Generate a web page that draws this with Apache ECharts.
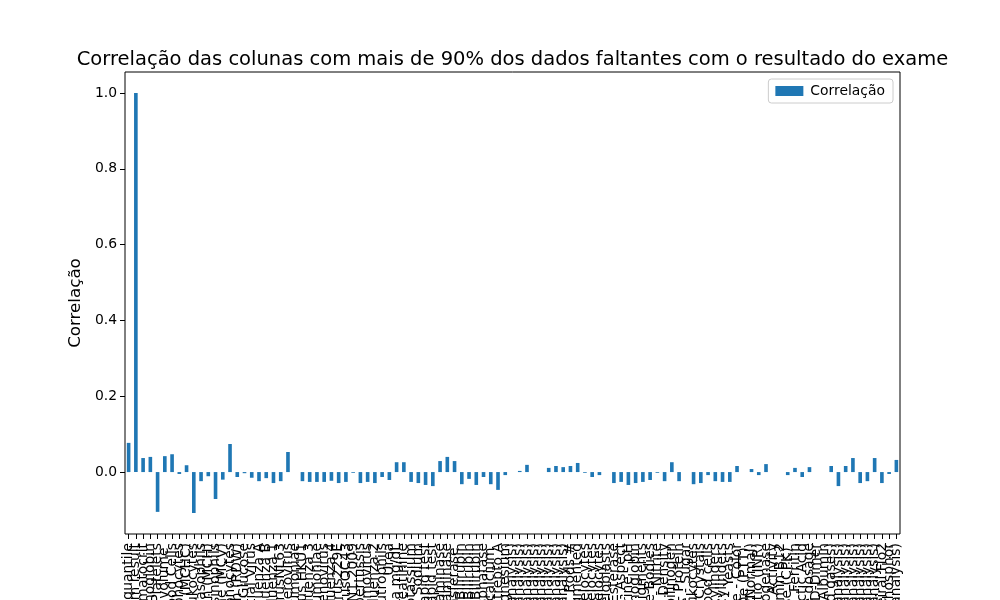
<!DOCTYPE html>
<html>
<head>
<meta charset="utf-8">
<script src="https://cdn.jsdelivr.net/npm/echarts@6/dist/echarts.min.js"></script>
<style>html,body{margin:0;padding:0;background:#fff}#c{width:1000px;height:600px}</style>
</head>
<body>
<div id="c"></div>
<script>
const categories = [
"Patient age quantile","SARS-Cov-2 exam result","Hematocrit","Hemoglobin","Platelets","Mean platelet volume ","Red blood Cells","Lymphocytes",
"Mean corpuscular hemoglobin concentration (MCHC)","Leukocytes","Basophils","Mean corpuscular hemoglobin (MCH)","Eosinophils",
"Mean corpuscular volume (MCV)","Monocytes","Red blood cell distribution width (RDW)","Serum Glucose","Respiratory Syncytial Virus",
"Influenza A","Influenza B","Parainfluenza 1","CoronavirusNL63","Rhinovirus/Enterovirus","Mycoplasma pneumoniae","Coronavirus HKU1",
"Parainfluenza 3","Chlamydophila pneumoniae","Adenovirus","Parainfluenza 4","Coronavirus229E","CoronavirusOC43","Inf A H1N1 2009",
"Bordetella pertussis","Metapneumovirus","Parainfluenza 2","Neutrophils","Urea","Proteina C reativa mg/dL","Creatinine","Potassium",
"Sodium","Influenza B, rapid test","Influenza A, rapid test","Alanine transaminase","Aspartate transaminase","Gamma-glutamyltransferase ",
"Total Bilirubin","Direct Bilirubin","Indirect Bilirubin","Alkaline phosphatase","Ionized calcium ","Strepto A","Magnesium",
"pCO2 (venous blood gas analysis)","Hb saturation (venous blood gas analysis)","Base excess (venous blood gas analysis)",
"pO2 (venous blood gas analysis)","Fio2 (venous blood gas analysis)","Total CO2 (venous blood gas analysis)","pH (venous blood gas analysis)",
"HCO3 (venous blood gas analysis)","Rods #","Segmented","Promyelocytes","Metamyelocytes","Myelocytes","Myeloblasts","Urine - Esterase",
"Urine - Aspect","Urine - pH","Urine - Hemoglobin","Urine - Bile pigments","Urine - Ketone Bodies","Urine - Nitrite","Urine - Density",
"Urine - Urobilinogen","Urine - Protein","Urine - Sugar","Urine - Leukocytes","Urine - Crystals","Urine - Red blood cells",
"Urine - Hyaline cylinders","Urine - Granular cylinders","Urine - Yeasts","Urine - Color","Partial thromboplastin time (PTT) ",
"Relationship (Patient/Normal)","International normalized ratio (INR)","Lactic Dehydrogenase","Prothrombin time (PT), Activity",
"Vitamin B12","Creatine phosphokinase (CPK) ","Ferritin","Arterial Lactic Acid","Lipase dosage","D-Dimer","Albumin",
"Hb saturation (arterial blood gases)","pCO2 (arterial blood gas analysis)","Base excess (arterial blood gas analysis)",
"pH (arterial blood gas analysis)","Total CO2 (arterial blood gas analysis)","HCO3 (arterial blood gas analysis)",
"pO2 (arterial blood gas analysis)","Arteiral Fio2","Phosphor","ctO2 (arterial blood gas analysis)"
];
const correlacao = [
0.077,1.0,0.037,0.040,-0.105,0.042,0.047,-0.005,0.018,-0.108,
-0.024,-0.011,-0.071,-0.020,0.074,-0.013,-0.003,-0.015,-0.024,-0.016,
-0.029,-0.024,0.053,null,-0.024,-0.026,-0.026,-0.026,-0.023,-0.029,
-0.026,-0.002,-0.029,-0.026,-0.029,-0.013,-0.021,0.026,0.026,-0.026,
-0.029,-0.034,-0.037,0.029,0.040,0.029,-0.032,-0.018,-0.034,-0.013,
-0.032,-0.047,-0.008,null,0.003,0.019,null,null,0.011,0.016,
0.013,0.016,0.024,-0.002,-0.013,-0.008,null,-0.029,-0.026,-0.034,
-0.029,-0.026,-0.021,-0.002,-0.024,0.026,-0.024,null,-0.032,-0.029,
-0.008,-0.024,-0.026,-0.026,0.016,null,0.008,-0.008,0.021,null,
null,-0.008,0.011,-0.013,0.013,null,null,0.016,-0.037,0.016,
0.037,-0.029,-0.024,0.037,-0.029,-0.005,0.032
];
const yTicks = [0.0,0.2,0.4,0.6,0.8,1.0];
const titleText = "Correlação das colunas com mais de 90% dos dados faltantes com o resultado do exame";
const seriesName = "Correlação";
const yLabel = "Correlação";

const nums = correlacao.filter(v => v !== null);
const dMin = Math.min(...nums), dMax = Math.max(...nums);
const span = dMax - dMin;
const yMin = dMin - 0.05 * span, yMax = dMax + 0.05 * span;

const FONT = "DejaVu Sans";
const chart = echarts.init(document.getElementById('c'), null, {renderer: 'canvas'});
chart.setOption({
  animation: false,
  backgroundColor: '#ffffff',
  textStyle: {fontFamily: FONT},
  title: {
    text: titleText, left: 507.5, textAlign: 'center', top: 45,
    textStyle: {fontFamily: FONT, fontSize: 19.5, fontWeight: 'normal', color: '#000'}
  },
  legend: {
    data: [seriesName], right: 107, top: 79,
    icon: 'rect', itemWidth: 28, itemHeight: 10, itemGap: 8,
    padding: [5, 8, 5, 7], borderColor: '#cccccc', borderWidth: 1, borderRadius: 3,
    backgroundColor: 'rgba(255,255,255,0.8)',
    textStyle: {fontFamily: FONT, fontSize: 13.9, color: '#000', padding: [0, 0, 0, 2]}
  },
  grid: {
    left: 125, right: 100, top: 72, bottom: 66, containLabel: false, outerBoundsMode: 'none',
    show: true, borderColor: '#000', borderWidth: 1, backgroundColor: 'transparent'
  },
  xAxis: {
    type: 'category', data: categories, boundaryGap: true, position: 'bottom',
    axisLine: {show: false, onZero: false},
    axisTick: {show: true, alignWithLabel: true, interval: 0, length: 5, lineStyle: {color: '#000', width: 1}},
    axisLabel: {interval: 0, rotate: 90, margin: 9, fontFamily: FONT, fontSize: 13.9, color: '#000', hideOverlap: false},
    splitLine: {show: false}
  },
  yAxis: {
    type: 'value', min: yMin, max: yMax,
    name: yLabel, nameLocation: 'middle', nameRotate: 90, nameGap: 38,
    nameTextStyle: {fontFamily: FONT, fontSize: 16.7, color: '#000'},
    axisLine: {show: false, onZero: false},
    axisTick: {show: true, length: 5, customValues: yTicks, lineStyle: {color: '#000', width: 1}},
    axisLabel: {customValues: yTicks, margin: 8, fontFamily: FONT, fontSize: 13.9, color: '#000',
      formatter: v => Number(v).toFixed(1)},
    splitLine: {show: false}
  },
  series: [{
    name: seriesName, type: 'bar', data: correlacao, barWidth: '50%',
    itemStyle: {color: '#1f77b4'}
  }]
});
</script>
</body>
</html>
